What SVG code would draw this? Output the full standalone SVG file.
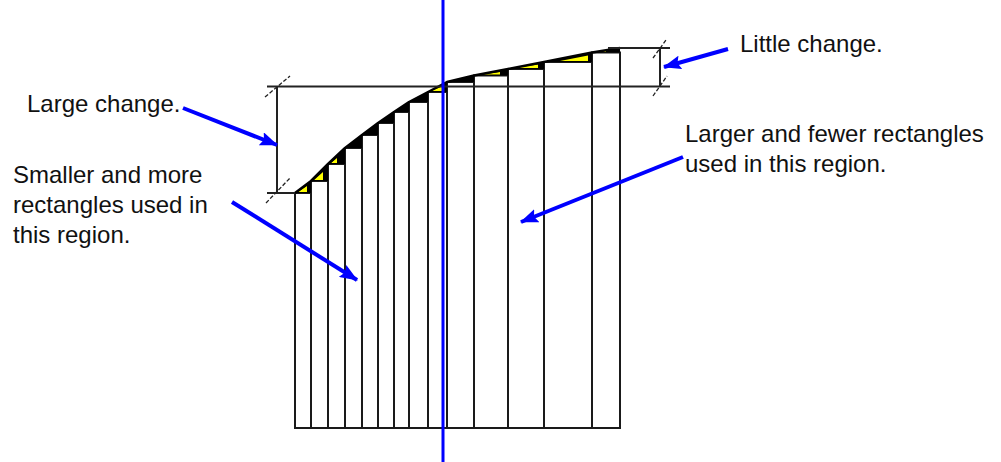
<svg xmlns="http://www.w3.org/2000/svg" width="1001" height="462" viewBox="0 0 1001 462">
<style>
.r{fill:#fff;stroke:#1a1a1a;stroke-width:2}
.blk{fill:#000}
.yel{fill:#ffff00}
.dim{stroke:#222;stroke-width:2;fill:none}
.tick{stroke:#222;stroke-width:1.3;stroke-dasharray:4 2;fill:none}
.arr{stroke:#0000ff;stroke-width:4;fill:none;marker-end:url(#ah)}
.t{font-family:"Liberation Sans",Arial,sans-serif;font-size:24px;fill:#111}
</style>
<defs>
<marker id="ah" viewBox="0 0 18 14" markerWidth="18" markerHeight="14" refX="17" refY="7" orient="auto" markerUnits="userSpaceOnUse">
<path d="M0,0 L18,7 L0,14 L3,7 z" fill="#0000ff"/>
</marker>
</defs>
<rect width="1001" height="462" fill="#fff"/>
<g id="rectangles">
<rect class="r" x="295" y="193" width="16" height="235"/>
<rect class="r" x="311" y="181" width="17" height="247"/>
<rect class="r" x="328" y="164" width="17" height="264"/>
<rect class="r" x="345" y="148" width="17" height="280"/>
<rect class="r" x="362" y="135" width="16" height="293"/>
<rect class="r" x="378" y="123" width="16" height="305"/>
<rect class="r" x="394" y="112" width="15" height="316"/>
<rect class="r" x="409" y="102" width="19" height="326"/>
<rect class="r" x="428" y="92" width="19" height="336"/>
<rect class="r" x="447" y="82" width="27" height="346"/>
<rect class="r" x="474" y="75.5" width="34" height="352.5"/>
<rect class="r" x="508" y="69" width="36" height="359"/>
<rect class="r" x="544" y="62" width="48" height="366"/>
<rect class="r" x="592" y="52.5" width="28" height="375.5"/>
</g>
<g id="slivers">
<polygon class="blk" points="295,193 311,181 311,193"/>
<polygon class="blk" points="311,181 328,164 328,181"/>
<polygon class="blk" points="328,164 345,148 345,164"/>
<polygon class="blk" points="345,148 362,135 362,148"/>
<polygon class="blk" points="362,135 378,123 378,135"/>
<polygon class="blk" points="378,123 394,112 394,123"/>
<polygon class="blk" points="394,112 409,102 409,112"/>
<polygon class="blk" points="409,102 428,92 428,102"/>
<polygon class="blk" points="428,92 447,82 447,92"/>
<polygon class="blk" points="447,82 474,75.5 474,82"/>
<polygon class="blk" points="474,75.5 508,69 508,75.5"/>
<polygon class="blk" points="508,69 544,62 544,69"/>
<polygon class="blk" points="544,62 592,52.5 592,62"/>
<polygon class="blk" points="592,52.5 620,48 620,52.5"/>
<polygon class="yel" points="298,192 307,186 307,192"/>
<polygon class="yel" points="314,180 323,172 323,180"/>
<polygon class="yel" points="331,163 337,158 337,163"/>
<polygon class="yel" points="431,91 442,86.5 442,91"/>
<polygon class="yel" points="482,74.5 500,72 500,74.5"/>
<polygon class="yel" points="514,68 538,64.5 538,68"/>
<polygon class="yel" points="560,61 588,55.5 588,61"/>
<polygon class="yel" points="596,52 606,51 606,52"/>
</g>
<g id="curve">
<polyline fill="none" stroke="#000" stroke-width="2.5" stroke-linejoin="round" points="295,193 311,181 328,164 345,148 362,135 378,123 394,112 409,102 428,92 447,82 474,75.5 508,69 544,62 592,52.5 620,48"/>
</g>
<g id="dimensions">
<line class="dim" x1="267" y1="86.5" x2="670" y2="86.5"/>
<line class="dim" x1="267" y1="193" x2="295" y2="193"/>
<line class="dim" x1="277" y1="86.5" x2="277" y2="193"/>
<line class="dim" x1="608" y1="48" x2="670" y2="48"/>
<line class="dim" x1="660" y1="48" x2="660" y2="86.5"/>
<line class="tick" x1="265" y1="97" x2="290" y2="76"/>
<line class="tick" x1="266" y1="203" x2="290" y2="178"/>
<line class="tick" x1="653" y1="58" x2="666" y2="40"/>
<line class="tick" x1="653" y1="96" x2="667" y2="76"/>
</g>
<g id="axis">
<line x1="443" y1="0" x2="443" y2="462" stroke="#0000ff" stroke-width="3"/>
</g>
<g id="connectors">
<line class="arr" x1="183" y1="108" x2="277" y2="145"/>
<line class="arr" x1="232" y1="202" x2="357" y2="280"/>
<line class="arr" x1="683" y1="157" x2="521" y2="222"/>
<line class="arr" x1="728" y1="49" x2="664" y2="67"/>
</g>
<g id="label-large">
<text class="t" x="27" y="112">Large change.</text>
</g>
<g id="label-smaller">
<text class="t" x="13" y="183">Smaller and more</text>
<text class="t" x="13" y="213">rectangles used in</text>
<text class="t" x="13" y="243">this region.</text>
</g>
<g id="label-little">
<text class="t" x="740" y="52">Little change.</text>
</g>
<g id="label-larger">
<text class="t" x="685" y="142">Larger and fewer rectangles</text>
<text class="t" x="685" y="172">used in this region.</text>
</g>
</svg>
